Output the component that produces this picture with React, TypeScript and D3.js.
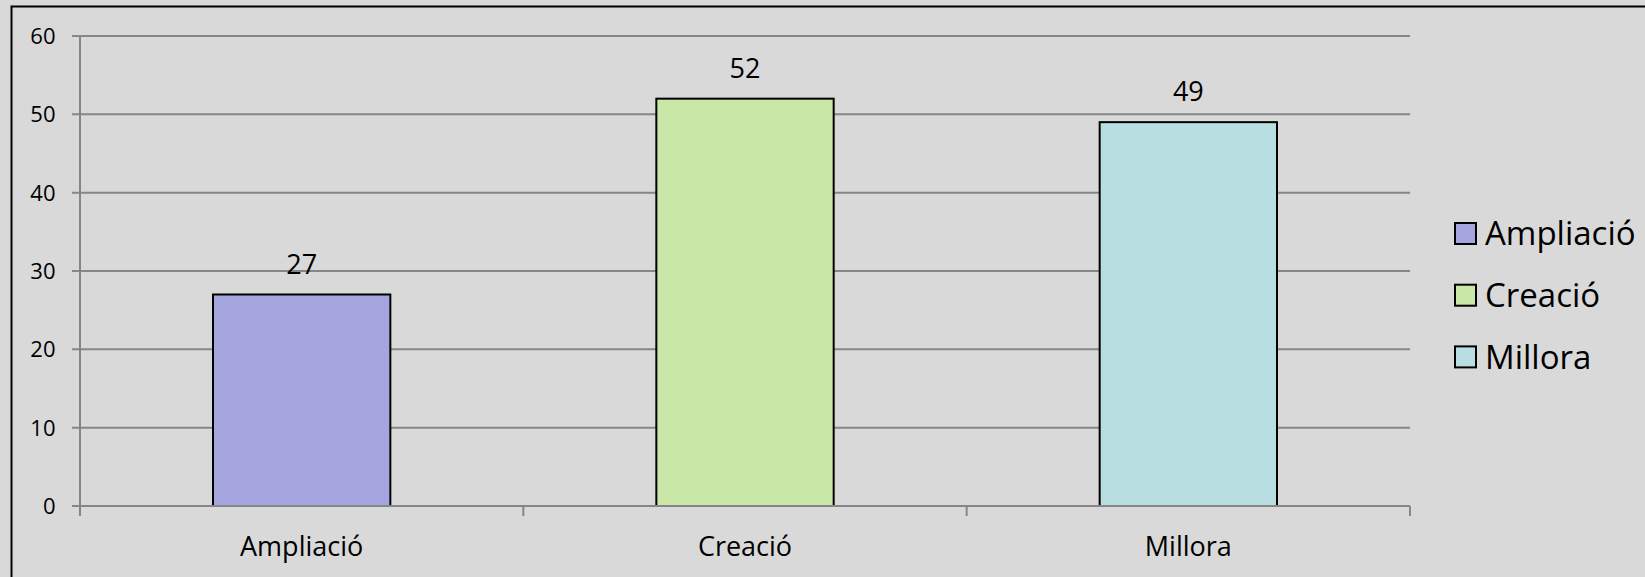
import * as d3 from 'd3';

const categories = ['Ampliació', 'Creació', 'Millora'];
const values = [27, 52, 49];
const colors = ['#a5a5e0', '#c9e7a7', '#b9dee1'];
const yTicks = [0, 10, 20, 30, 40, 50, 60];

const W = 1645;
const H = 577;
const FONT = "'Open Sans', 'Noto Sans', sans-serif";

export default function App() {
  // plot area
  const left = 80;
  const right = 1410;
  const top = 36;
  const bottom = 506;

  const x = d3.scaleBand<string>().domain(categories).range([left, right]).padding(0);
  const y = d3.scaleLinear().domain([0, 60]).range([bottom, top]);
  const barW = x.bandwidth() * 0.4;

  const boundaries = d3.range(categories.length + 1).map((i) => left + i * x.step());

  return (
    <svg
      width={W}
      height={H}
      style={{ position: 'absolute', left: 0, top: 0, display: 'block' }}
      fontFamily={FONT}
    >
      <rect x={0} y={0} width={W} height={H} fill="#d9d9d9" />
      <rect x={11.5} y={6.5} width={W + 10} height={H + 10} fill="#d9d9d9" stroke="#000" strokeWidth={2} />

      {/* gridlines + y ticks */}
      {yTicks.map((t) => (
        <g key={t}>
          <line x1={left - 8} x2={right} y1={y(t)} y2={y(t)} stroke="#868686" strokeWidth={2} />
          <text x={55.5} y={y(t)} dy="0.36em" textAnchor="end" fontSize={22} fill="#000">
            {t}
          </text>
        </g>
      ))}

      {/* y axis */}
      <line x1={left} x2={left} y1={top} y2={bottom + 10} stroke="#868686" strokeWidth={2} />

      {/* x ticks */}
      {boundaries.map((bx, i) => (
        <line key={i} x1={bx} x2={bx} y1={bottom} y2={bottom + 10} stroke="#868686" strokeWidth={2} />
      ))}

      {/* bars */}
      {categories.map((c, i) => {
        const cx = (x(c) as number) + x.bandwidth() / 2;
        return (
          <g key={c}>
            <rect
              x={cx - barW / 2}
              y={y(values[i])}
              width={barW}
              height={y(0) - y(values[i])}
              fill={colors[i]}
              stroke="#000"
              strokeWidth={2}
            />
            <text x={cx} y={y(values[i]) - 21} textAnchor="middle" fontSize={27} fill="#000">
              {values[i]}
            </text>
            <text x={cx} y={556} textAnchor="middle" fontSize={27} fill="#000">
              {c}
            </text>
          </g>
        );
      })}

      {/* x axis line on top */}
      <line x1={left} x2={right} y1={bottom} y2={bottom} stroke="#868686" strokeWidth={2} />

      {/* legend */}
      {categories.map((c, i) => {
        const cy = 233.5 + i * 61.7;
        return (
          <g key={c}>
            <rect x={1455} y={cy - 10.5} width={21} height={21} fill={colors[i]} stroke="#000" strokeWidth={2} />
            <text x={1485} y={cy} dy="0.36em" fontSize={33} fill="#000">
              {c}
            </text>
          </g>
        );
      })}
    </svg>
  );
}
